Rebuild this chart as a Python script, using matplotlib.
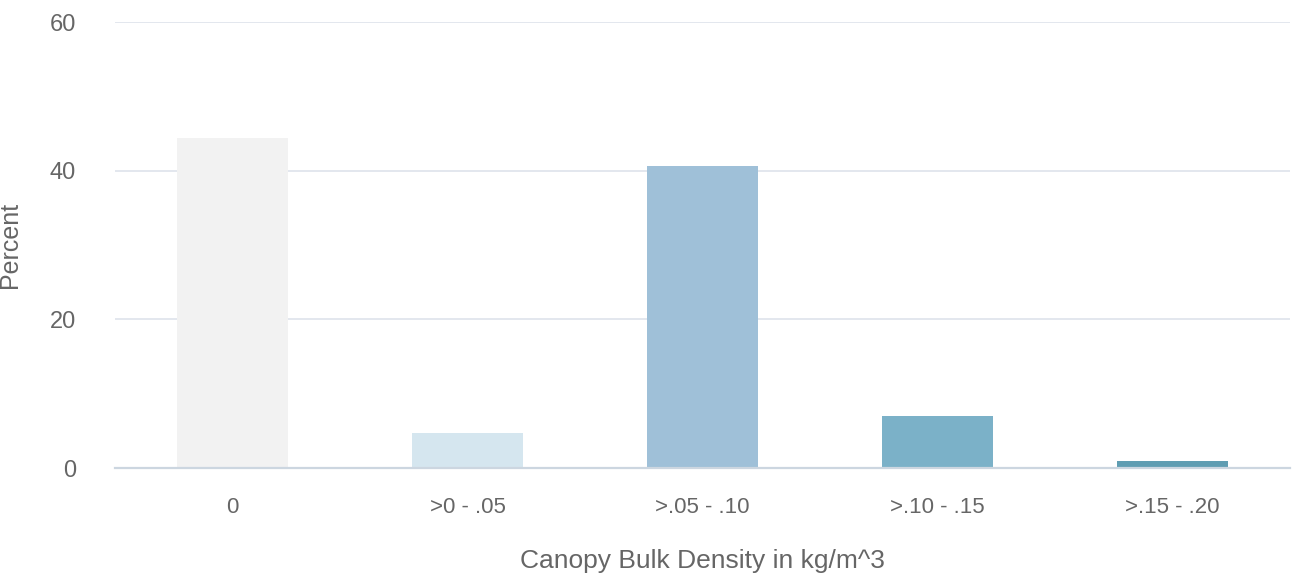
import matplotlib
matplotlib.use("Agg")
import matplotlib.pyplot as plt

categories = ["0", ">0 - .05", ">.05 - .10", ">.10 - .15", ">.15 - .20"]
percent = [44.4, 4.7, 40.7, 7.0, 1.0]
bar_colors = ["#f2f2f2", "#d5e6ef", "#9fc0d8", "#7bb1c8", "#5f9db2"]
y_ticks = [0, 20, 40, 60]

plt.rcParams["font.family"] = ["Liberation Sans", "DejaVu Sans"]

fig = plt.figure(figsize=(12.99, 5.80), dpi=100)
ax = fig.add_axes([0.0885, 0.193, 0.9045, 0.7686])

x = list(range(len(categories)))
ax.bar(x, percent, width=0.47, color=bar_colors, zorder=3)

ax.set_xlim(-0.5, len(categories) - 0.5)
ax.set_ylim(0, 60)
ax.set_yticks(y_ticks)
ax.set_xticks(x)
ax.set_xticklabels(categories)

ax.grid(axis="y", color="#e3e7ee", linewidth=1.4, zorder=0)
for s in ["top", "right", "left"]:
    ax.spines[s].set_visible(False)
ax.spines["bottom"].set_color("#ccd6e0")
ax.spines["bottom"].set_linewidth(1.6)
ax.spines["bottom"].set_zorder(4)

ax.tick_params(axis="both", length=0, labelcolor="#666666", labelsize=17)
ax.tick_params(axis="x", labelsize=16)
ax.tick_params(axis="y", pad=28)
ax.tick_params(axis="x", pad=21)

ax.set_ylabel("Percent", color="#666666", fontsize=18)
ax.yaxis.set_label_coords(-0.079, 0.5)
ax.set_xlabel("Canopy Bulk Density in kg/m^3", color="#666666", fontsize=19, labelpad=22)

fig.savefig("out.png", dpi=100, facecolor="white")
